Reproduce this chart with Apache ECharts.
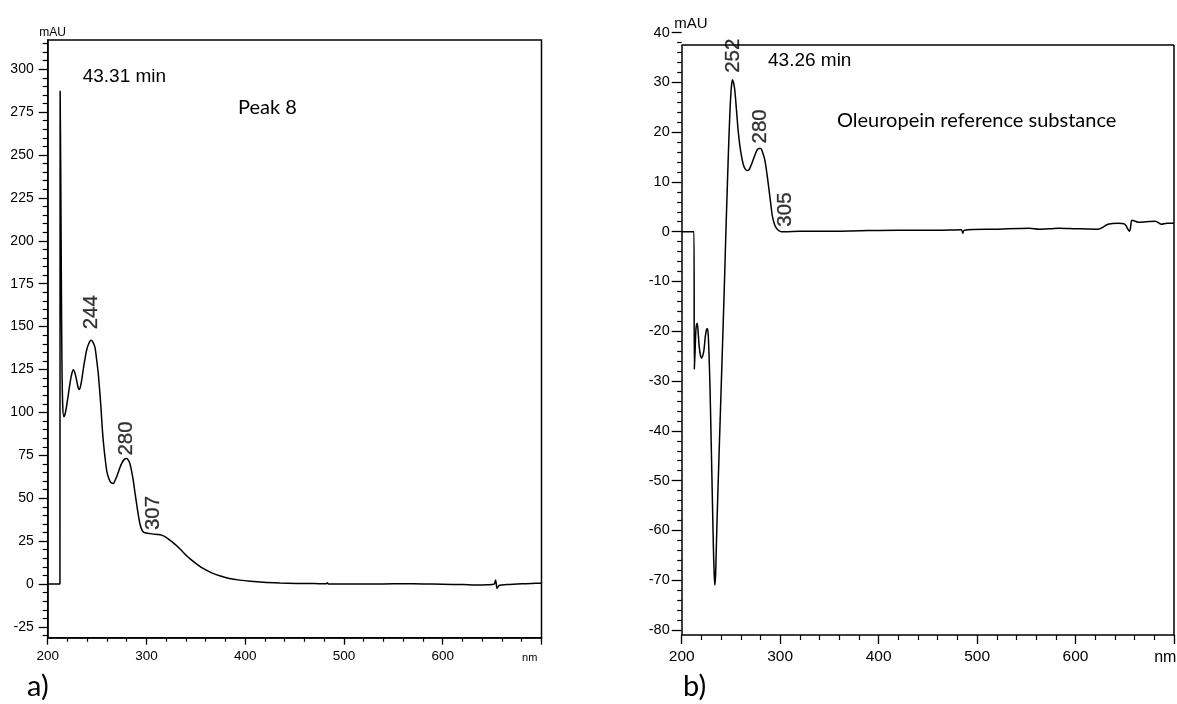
<!DOCTYPE html>
<html><head><meta charset="utf-8">
<script src="https://cdn.jsdelivr.net/npm/echarts@6/dist/echarts.min.js"></script>
<style>html,body{margin:0;padding:0;background:#fff}#c{width:1177px;height:704px}</style>
</head><body><div id="c"></div>
<script>
// ---- data (wavelength nm, absorbance mAU) ----
const specA = [
 [200,0],[212.4,0],[212.6,287.4],[213.2,240],[213.8,180],[214.4,130],[215.2,104],[216.4,97.5],[217.8,99.5],
 [219.2,104],[220.8,110],[222.5,116.7],[224.2,122],[225.9,124.9],[227.6,123],[229.3,118.7],[230.8,114.5],
 [232,113.3],[233.5,116],[235,121],[236.5,127],[238,132],[239.5,136.5],[241.5,140],[243.8,142],[245.8,141],
 [247.8,138],[249.5,131],[251.2,122.6],[252.6,113],[253.9,103.1],[255,93],[256.2,83.8],[258,74],[259.7,66.3],
 [261.3,62.5],[263,60],[264.6,58.9],[266.3,58.6],[268.3,60.5],[270.4,63.4],[272.6,67],[274.8,70.2],[277.3,72.5],
 [279.9,73.1],[281.6,72.2],[283.2,70.2],[284.9,66],[286.6,60.5],[288.3,53.5],[290,46.9],[291.7,40.5],[293.3,35.3],
 [295,32],[296.7,30.5],[298.4,29.9],[302.5,29.5],[306.8,29.1],[311,28.9],[315.3,28.5],[319.5,27.3],[323.7,25.6],
 [328.7,23.3],[333.8,20.6],[338.8,17.6],[343.9,14.8],[350.6,11.8],[357.3,9.1],[365.5,6.7],[374.2,4.8],[384,3.3],
 [394.4,2.3],[405,1.6],[418,1],[435,0.6],[452,0.4],[470,0.3],[482,0.2],[483,0.8],[484,0.1],[500,0.1],[520,0],
 [540,0.1],[560,0.2],[580,0.1],[600,-0.1],[620,-0.3],[637,-0.6],[645,-0.4],[652,0],[653.5,2.4],[655,-2.5],
 [657,-0.8],[665,-0.3],[680,0.2],[690,0.4],[700,0.5]
];
const specB = [
 [200,0],[212.5,0],[212.8,-27.6],[213.6,-24],[214.5,-19.5],[215.8,-18.4],[216.8,-20.5],[217.8,-23.1],[219,-24.8],
 [220.2,-25.4],[221.4,-24.9],[222.6,-23.8],[224,-21],[225.3,-19.6],[226.2,-19.5],[227,-21],[227.8,-25],
 [228.7,-31],[229.6,-39],[230.5,-47.5],[231.4,-56],[232.2,-63.5],[233,-68.8],[233.7,-71],[234.4,-69],
 [235.1,-64],[235.9,-58],[237.5,-47.5],[239.1,-37.5],[240.7,-27.5],[242.3,-17.5],[243.6,-9],[244.9,0],
 [246.4,9.5],[247.9,18.5],[249.1,24.5],[250.2,28.5],[251,30],[251.6,30.5],[252.4,30.1],[253.2,29.4],[254,28.3],
 [255.6,24.5],[257.3,20.4],[259,17.4],[260.8,15.1],[262.4,13.6],[264.1,12.7],[266.2,12.3],[268.2,12.4],[270.4,13.3],
 [272.5,14.4],[274.6,15.5],[276.6,16.4],[278.5,16.7],[280.3,16.7],[282.4,15.8],[284.4,14.4],[286.6,11.6],[288.7,8.4],
 [290.5,5.5],[292.2,3],[294.2,1.5],[296.2,0.7],[298.7,0.2],[301.3,0],[305,0],[320,0.1],[350,0.1],[380,0.2],[420,0.3],
 [460,0.3],[484,0.4],[485.5,-0.3],[487,0.3],[520,0.5],[553,0.7],[563,0.5],[575,0.6],[583,0.7],[600,0.6],[623,0.5],
 [628,0.9],[633,1.5],[643,1.7],[650,1.5],[654.7,0.1],[656,1.0],[657.3,2.3],[664,1.9],[672,2.0],[681,2.1],[687,1.5],
 [693,1.7],[700,1.7]
];
const peaksA = [[244,142],[280,73.1],[307,29.1]];
const peaksB = [[252,30.5],[280,16.7],[305,0]];
const yTicksA = [-25,0,25,50,75,100,125,150,175,200,225,250,275,300];
const yTicksB = [-80,-70,-60,-50,-40,-30,-20,-10,0,10,20,30,40];
const xRange = [200,700];
const yRangeA = [-31.25,317];
const yRangeB = [-81,40];
const frameTopB = 37.5;

// ---- helpers ----
const minorA = []; for (let v = -30; v <= 315; v += 5) if (yTicksA.indexOf(v) < 0) minorA.push(v);
const minorB = []; for (let v = -80; v <= 40; v += 2) if (yTicksB.indexOf(v) < 0) minorB.push(v);
const peakLabelDist = {A:[11,3,4], B:[7,5,5]};
const FONT = '"Liberation Sans", Arial, sans-serif';
const black = '#000';

function peakSeries(peaks, dists, xi, yi) {
  return {
    type:'scatter', xAxisIndex:xi, yAxisIndex:yi, symbolSize:0, silent:true, z:5,
    data: peaks.map((p,i)=>({value:p, label:{distance:dists[i]}})),
    label:{show:true, position:'top', rotate:90, align:'left', verticalAlign:'middle',
      formatter:(p)=>String(p.value[0]), fontFamily:FONT, fontSize:20.5, color:black,
      textBorderColor:black, textBorderWidth:0.3}
  };
}
function xAxis(gi, fs, majorLen, minorLen, margin) {
  return {type:'value', gridIndex:gi, min:xRange[0], max:xRange[1], interval:100,
    axisLine:{show:true, onZero:false, lineStyle:{color:black, width:1.5}},
    axisTick:{show:true, length:majorLen, lineStyle:{color:black, width:1.3}},
    minorTick:{show:true, splitNumber:5, length:minorLen, lineStyle:{color:black, width:1.2}},
    splitLine:{show:false}, minorSplitLine:{show:false},
    axisLabel:{fontFamily:FONT, fontSize:fs, color:black, margin:margin,
      formatter:(v)=> v===xRange[1] ? '' : String(v)}};
}
function yMain(gi, rng, ticks, fs, len, margin, showLine) {
  return {type:'value', gridIndex:gi, position:'left', min:rng[0], max:rng[1],
    axisLine:{show:showLine, onZero:false, lineStyle:{color:black, width:1.5}},
    axisTick:{show:true, length:len, customValues:ticks, lineStyle:{color:black, width:1.3}},
    axisLabel:{show:true, customValues:ticks, fontFamily:FONT, fontSize:fs, color:black, margin:margin},
    splitLine:{show:false}};
}
function yMinor(gi, rng, ticks, len) {
  return {type:'value', gridIndex:gi, position:'left', min:rng[0], max:rng[1],
    axisLine:{show:false, onZero:false}, axisLabel:{show:false},
    axisTick:{show:true, length:len, customValues:ticks, lineStyle:{color:black, width:1.2}},
    splitLine:{show:false}};
}
function txt(x, y, text, font, align) {
  return {type:'text', x:x, y:y, silent:true,
    style:{text:text, font:font, fill:black, align:align||'left', verticalAlign:'middle'}};
}

const chart = echarts.init(document.getElementById('c'), null, {renderer:'canvas'});
chart.setOption({
  animation:false,
  backgroundColor:'#fff',
  grid:[
    {left:47.7, right:635.5, top:40, bottom:66.3, show:true, borderColor:black, borderWidth:1.5, containLabel:false},
    {left:681.7, right:1.7, top:32.5, bottom:69, show:false, containLabel:false}
  ],
  xAxis:[ xAxis(0, 13.5, 7, 4, 12), xAxis(1, 15.5, 9, 5, 14) ],
  yAxis:[
    yMain(0, yRangeA, yTicksA, 14, 9, 14, true),
    yMinor(0, yRangeA, minorA, 5),
    yMain(1, yRangeB, yTicksB, 14.5, 10, 12, false),
    yMinor(1, yRangeB, minorB, 4.5)
  ],
  series:[
    {type:'line', xAxisIndex:0, yAxisIndex:0, data:specA, showSymbol:false, smooth:0.3, clip:true,
      lineStyle:{color:black, width:1.5}, silent:true},
    {type:'line', xAxisIndex:1, yAxisIndex:2, data:specB, showSymbol:false, smooth:0.3, clip:true,
      lineStyle:{color:black, width:1.5}, silent:true,
      markLine:{silent:true, symbol:['none','none'], label:{show:false},
        lineStyle:{color:black, width:1.5, type:'solid'},
        data:[
          [{coord:[xRange[0], frameTopB]}, {coord:[xRange[1], frameTopB]}],
          [{coord:[xRange[1], yRangeB[0]]}, {coord:[xRange[1], frameTopB]}],
          [{coord:[xRange[0], yRangeB[0]]}, {coord:[xRange[0], frameTopB]}]
        ]}},
    peakSeries(peaksA, peakLabelDist.A, 0, 0),
    peakSeries(peaksB, peakLabelDist.B, 1, 2)
  ],
  graphic:[
    txt(82.7, 77, '43.31 min', '19px ' + FONT),
    txt(238, 108, 'Peak 8', '20px Lato, "Open Sans", sans-serif'),
    txt(768, 61, '43.26 min', '19px ' + FONT),
    txt(837, 121, 'Oleuropein reference substance', '20px Lato, "Open Sans", sans-serif'),
    txt(52.5, 32.5, 'mAU', '12px ' + FONT, 'center'),
    txt(690.8, 23.5, 'mAU', '15px ' + FONT, 'center'),
    txt(529.7, 658, 'nm', '11px ' + FONT, 'center'),
    txt(1165.3, 657.5, 'nm', '16px ' + FONT, 'center'),
    txt(27, 687, 'a)', '29px Lato, "Open Sans", sans-serif'),
    txt(683, 686.5, 'b)', '29px Lato, "Open Sans", sans-serif')
  ]
});
</script></body></html>
